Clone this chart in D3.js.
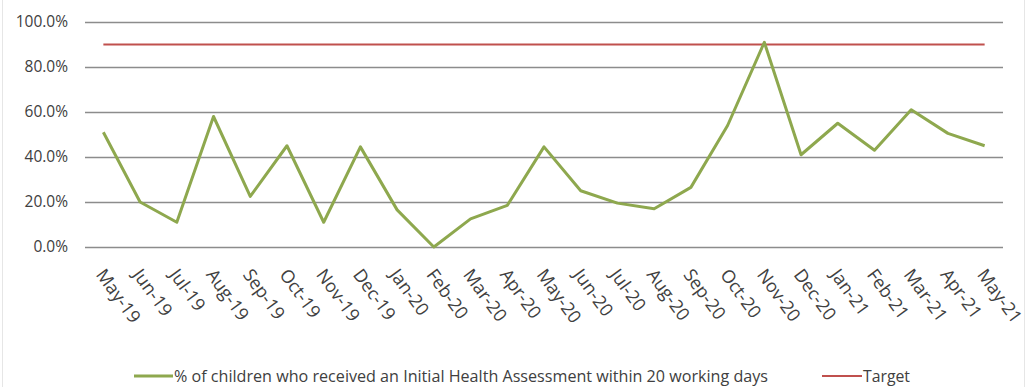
<!DOCTYPE html>
<html>
<head>
<meta charset="utf-8">
<script src="https://cdn.jsdelivr.net/npm/d3@7"></script>
<style>
  body { margin: 0; background: #fff; }
  text { font-family: "Open Sans", "Liberation Sans", sans-serif; fill: #404040; }
</style>
</head>
<body>
<svg width="1027" height="387"></svg>
<script>
var months = ["May-19","Jun-19","Jul-19","Aug-19","Sep-19","Oct-19","Nov-19","Dec-19",
  "Jan-20","Feb-20","Mar-20","Apr-20","May-20","Jun-20","Jul-20","Aug-20","Sep-20",
  "Oct-20","Nov-20","Dec-20","Jan-21","Feb-21","Mar-21","Apr-21","May-21"];
var iha = [51, 20, 11, 58, 22.5, 45, 11, 44.5, 16.5, 0, 12.5, 18.5, 44.5, 25, 19.5, 17,
  26.5, 54, 91, 41, 55, 43, 61, 50.5, 45];
var target = 90;
var yTicks = [0, 20, 40, 60, 80, 100];
var seriesNames = ["% of children who received an Initial Health Assessment within 20 working days", "Target"];

var svg = d3.select("svg"),
    width = +svg.attr("width"),
    height = +svg.attr("height");

var x = d3.scaleBand().domain(months).range([85, 1003]);
var y = d3.scaleLinear().domain([0, 100]).range([247, 22]);

// faint chart border
svg.append("rect")
  .attr("x", 2.5).attr("y", -1).attr("width", 1022).attr("height", 390)
  .attr("fill", "none").attr("stroke", "#e6e6e6");

// gridlines + y labels
var yAxis = svg.append("g")
  .attr("transform", "translate(85,0)")
  .call(d3.axisLeft(y).tickValues(yTicks).tickSize(-(1003 - 85)).tickPadding(17)
    .tickFormat(function (d) { return d.toFixed(1) + "%"; }));
yAxis.select(".domain").remove();
yAxis.selectAll("line").attr("stroke", "#8c8c8c").attr("stroke-width", 1.6);
yAxis.selectAll("text").attr("font-size", "15.5px").attr("fill", "#404040")
  .attr("font-family", "'Open Sans', sans-serif");

var cx = function (d) { return x(d) + x.bandwidth() / 2; };

// x labels rotated
svg.append("g").selectAll("text")
  .data(months)
  .enter().append("text")
  .attr("transform", function (d) {
    return "translate(" + (cx(d) - 3) + ",271) rotate(54)";
  })
  .attr("text-anchor", "start")
  .attr("dy", "0.35em")
  .attr("font-size", "18px")
  .attr("fill", "#404040")
  .text(function (d) { return d; });

// target line
svg.append("line")
  .attr("x1", cx(months[0])).attr("x2", cx(months[months.length - 1]))
  .attr("y1", y(target)).attr("y2", y(target))
  .attr("stroke", "#c0504d").attr("stroke-width", 2);

// main series
var line = d3.line()
  .x(function (d, i) { return cx(months[i]); })
  .y(function (d) { return y(d); });

svg.append("path")
  .datum(iha)
  .attr("fill", "none")
  .attr("stroke", "#8ea84e")
  .attr("stroke-width", 3)
  .attr("stroke-linejoin", "round")
  .attr("d", line);

// legend
var leg = svg.append("g").attr("transform", "translate(0,376)");
leg.append("line").attr("x1", 134).attr("x2", 173).attr("y1", 0).attr("y2", 0)
  .attr("stroke", "#8ea84e").attr("stroke-width", 3);
leg.append("text").attr("x", 174).attr("y", 0).attr("dy", "0.35em")
  .attr("font-size", "16px").attr("fill", "#404040")
  .attr("textLength", 594).attr("lengthAdjust", "spacingAndGlyphs")
  .text(seriesNames[0]);
leg.append("line").attr("x1", 822).attr("x2", 862).attr("y1", 0).attr("y2", 0)
  .attr("stroke", "#c0504d").attr("stroke-width", 2);
leg.append("text").attr("x", 863).attr("y", 0).attr("dy", "0.35em")
  .attr("font-size", "16px").attr("fill", "#404040")
  .attr("textLength", 47).attr("lengthAdjust", "spacingAndGlyphs")
  .text(seriesNames[1]);
</script>
</body>
</html>
